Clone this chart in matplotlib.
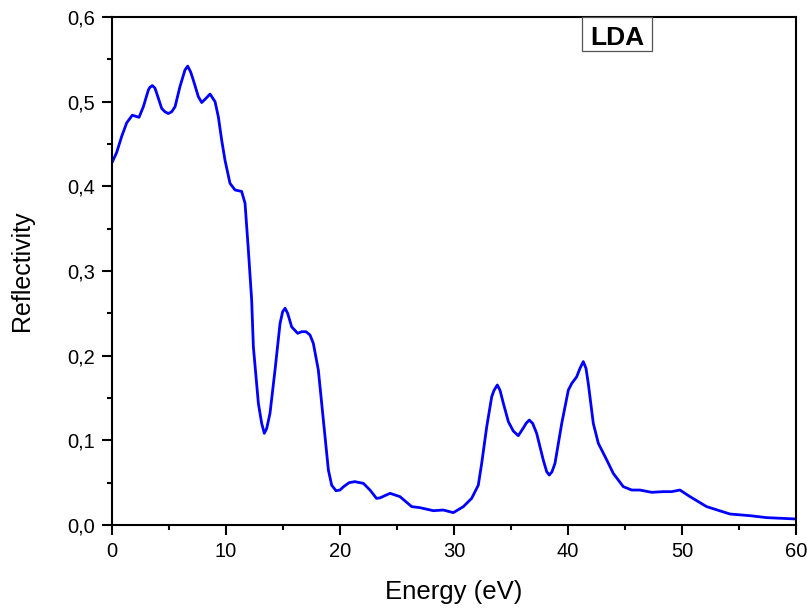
import matplotlib
matplotlib.use("Agg")
import matplotlib.pyplot as plt
from matplotlib.patches import Rectangle
from matplotlib.ticker import MultipleLocator

plt.rcParams['font.family'] = ['Liberation Sans', 'DejaVu Sans']

# Data
energy = [0.0, 0.41, 0.85, 1.29, 1.78, 2.37, 2.75, 3.19, 3.33, 3.54, 3.77, 3.92,
          4.36, 4.65, 4.94, 5.23, 5.53, 5.96, 6.4, 6.64, 6.9, 7.13, 7.57, 7.87,
          8.25, 8.6, 9.04, 9.33, 9.62, 9.91, 10.35, 10.79, 11.37, 11.67, 11.96,
          12.25, 12.4, 12.84, 13.13, 13.36, 13.57, 13.86, 14.3, 14.74, 14.97,
          15.18, 15.41, 15.76, 16.29, 16.64, 17.02, 17.37, 17.66, 18.1, 18.54,
          18.98, 19.27, 19.65, 20.0, 20.29, 20.8, 21.3, 22.05, 22.63, 23.2, 23.5,
          24.39, 25.26, 26.29, 27.0, 28.19, 29.06, 29.94, 30.82, 31.55, 32.13,
          32.43, 32.87, 33.31, 33.51, 33.8, 34.04, 34.33, 34.77, 35.2, 35.64,
          36.1, 36.32, 36.6, 36.9, 37.25, 37.83, 38.13, 38.36, 38.6, 38.86,
          39.45, 40.03, 40.32, 40.76, 41.05, 41.34, 41.58, 41.78, 42.22, 42.66,
          43.4, 43.97, 44.85, 45.59, 46.3, 47.34, 48.36, 49.1, 49.82, 50.7,
          52.16, 54.2, 55.96, 57.43, 60.0]
reflectivity = [0.428, 0.440, 0.459, 0.475, 0.484, 0.4815, 0.494, 0.5138, 0.517,
                0.519, 0.516, 0.510, 0.492, 0.488, 0.486, 0.488, 0.494, 0.5177,
                0.5374, 0.542, 0.535, 0.5256, 0.506, 0.499, 0.504, 0.509, 0.500,
                0.482, 0.4547, 0.431, 0.4036, 0.3957, 0.394, 0.380, 0.325, 0.266,
                0.2106, 0.1437, 0.120, 0.1083, 0.114, 0.132, 0.183, 0.238, 0.252,
                0.256, 0.250, 0.234, 0.2264, 0.2283, 0.2283, 0.2244, 0.2146, 0.183,
                0.124, 0.065, 0.047, 0.0405, 0.0413, 0.045, 0.050, 0.0512, 0.0492,
                0.0413, 0.0315, 0.032, 0.0374, 0.0335, 0.0217, 0.0205, 0.0169,
                0.0177, 0.0146, 0.0217, 0.0315, 0.047, 0.0729, 0.116, 0.1516,
                0.159, 0.1654, 0.159, 0.1437, 0.122, 0.111, 0.1055, 0.115, 0.120,
                0.124, 0.120, 0.1083, 0.0768, 0.063, 0.059, 0.063, 0.0729, 0.120,
                0.1594, 0.167, 0.175, 0.185, 0.193, 0.185, 0.167, 0.120, 0.0965,
                0.0768, 0.061, 0.0453, 0.0413, 0.0413, 0.0386, 0.0394, 0.0394,
                0.0413, 0.0335, 0.0217, 0.013, 0.011, 0.0087, 0.0071]

xticks = [0, 10, 20, 30, 40, 50, 60]
xticklabels = ['0', '10', '20', '30', '40', '50', '60']
yticks = [0.0, 0.1, 0.2, 0.3, 0.4, 0.5, 0.6]
yticklabels = ['0,0', '0,1', '0,2', '0,3', '0,4', '0,5', '0,6']
label_text = 'LDA'

fig = plt.figure(figsize=(8.07, 6.12), dpi=100)
ax = fig.add_axes([112/807, 1-525/612, 684/807, 508/612])

ax.plot(energy, reflectivity, color='#0000ff', lw=2.0,
        solid_joinstyle='round', solid_capstyle='round')

ax.set_xlim(0, 60)
ax.set_ylim(0, 0.6)
ax.set_xticks(xticks)
ax.set_xticklabels(xticklabels)
ax.set_yticks(yticks)
ax.set_yticklabels(yticklabels)
ax.xaxis.set_minor_locator(MultipleLocator(5))
ax.yaxis.set_minor_locator(MultipleLocator(0.05))

for s in ax.spines.values():
    s.set_linewidth(1.5)
ax.tick_params(which='major', direction='out', length=7, width=1.5,
               labelsize=14.5, pad=5, top=False, right=False)
ax.tick_params(which='minor', direction='out', length=3.8, width=1.5,
               top=False, right=False)

ax.set_xlabel('Energy (eV)', fontsize=18.5, labelpad=14)
ax.set_ylabel('Reflectivity', fontsize=18, labelpad=24)

# LDA label box
x0 = (582-112)/684
x1 = (652-112)/684
y0 = (525-51)/508
rect = Rectangle((x0, y0), x1-x0, 1-y0, transform=ax.transAxes,
                 facecolor='white', edgecolor='#555555', lw=0.9,
                 zorder=5, clip_on=False)
ax.add_patch(rect)
ax.text((x0+x1)/2, (525-45)/508, label_text, transform=ax.transAxes,
        ha='center', va='baseline', fontsize=19, fontweight='bold', zorder=6)

fig.savefig('out.png', dpi=100)
